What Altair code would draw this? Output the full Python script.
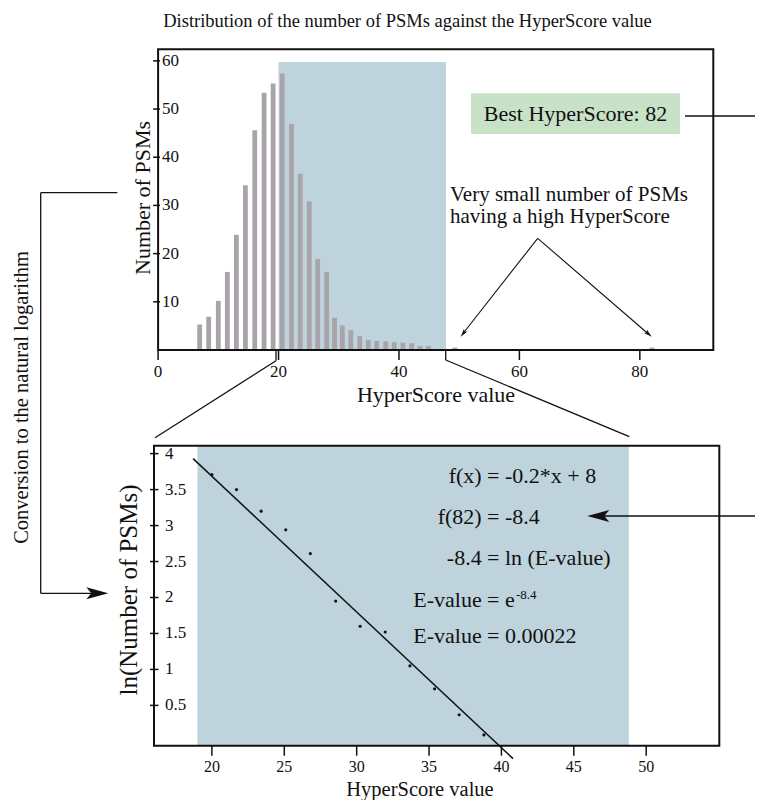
import altair as alt
import pandas as pd

FONT = "Liberation Serif"
INK = "#111111"

# ---------------- data ----------------
# top panel: histogram of PSMs per HyperScore
bar_score = [6.9, 8.4, 10.0, 11.5, 13.0, 14.5, 16.05, 17.6, 19.1, 20.6, 22.15, 23.6,
             25.1, 26.5, 28.0, 29.3, 30.6, 32.0, 33.5, 34.9, 36.3, 37.8, 39.2, 40.65,
             42.1, 43.5, 44.9, 49.3, 82.0]
bar_count = [5.3, 6.9, 10.2, 16.2, 23.9, 34.2, 45.6, 53.4, 55.3, 57.4, 46.9, 36.6,
             30.8, 18.9, 16.2, 6.7, 5.1, 4.1, 2.9, 2.1, 1.9, 1.8, 1.6, 1.5,
             1.4, 0.8, 0.8, 0.5, 0.5]
top_x_ticks = [0, 20, 40, 60, 80]
top_x_labels = ["0", "20", "40", "60", "80"]
top_y_ticks = [10, 20, 30, 40, 50, 60]
top_y_labels = ["10", "20", "30", "40", "50", "60"]
top_shade_x = [20, 47.8]
top_shade_top = 59.75

# bottom panel: ln(number of PSMs) against HyperScore
ln_score = [20.0, 21.7, 23.4, 25.1, 26.8, 28.55, 30.24, 31.97, 33.68, 35.38, 37.08, 38.79]
ln_count = [3.71, 3.50, 3.20, 2.94, 2.61, 1.95, 1.60, 1.52, 1.05, 0.73, 0.37, 0.09]
fit_score = [18.7, 40.8]
fit_ln = [3.93, -0.24]
bot_x_ticks = [20, 25, 30, 35, 40, 45, 50]
bot_x_labels = ["20", "25", "30", "35", "40", "45", "50"]
bot_y_ticks = [0.5, 1, 1.5, 2, 2.5, 3, 3.5, 4]
bot_y_labels = ["0.5", "1", "1.5", "2", "2.5", "3", "3.5", "4"]
bot_shade_x = [19.0, 48.8]

# texts
title_text = "Distribution of the number of PSMs against  the HyperScore value"
x_title = "HyperScore value"
top_y_title = "Number of PSMs"
bot_y_title = "ln(Number of PSMs)"
best_text = "Best HyperScore: 82"
note_lines = ["Very small number of PSMs", "having a high HyperScore"]
side_text = "Conversion to the natural logarithm"
eq_left = ["f(x)", "f(82)", "-8.4", "E-value", "E-value"]
eq_right = ["= -0.2*x + 8", "= -8.4", "= ln (E-value)", "= e", "= 0.00022"]
eq_sup = "-8.4"

# ---------------- layout (page px -> chart px) ----------------
O = 8
W, H = 747, 792


def P(v):
    return v - O


TX = [0, 92.2]
TY = [0, 62.4]
BX = [16, 55.05]
BY = [-0.06, 4.11]
top_x = alt.Scale(domain=TX, range=[P(153.1), P(718.3)], nice=False, zero=False)
top_y = alt.Scale(domain=TY, range=[P(350), P(49.3)], nice=False, zero=False)
bot_x = alt.Scale(domain=BX, range=[P(154), P(719.3)], nice=False, zero=False)
bot_y = alt.Scale(domain=BY, range=[P(745.7), P(445.7)], nice=False, zero=False)

one = alt.Data(values=[{}])


def rect_layer(x0, x1, y0, y1, sx, sy, **mk):
    df = pd.DataFrame({"x0": [x0], "x1": [x1], "y0": [y0], "y1": [y1]})
    return alt.Chart(df).mark_rect(**mk).encode(
        x=alt.X("x0:Q", scale=sx, axis=None), x2="x1:Q",
        y=alt.Y("y0:Q", scale=sy, axis=None), y2="y1:Q")


def x_axis(ticks, labels, sx, y_line, label_base, size=17):
    df = pd.DataFrame({"v": ticks, "lab": labels})
    tk = alt.Chart(df).mark_rule(color=INK, strokeWidth=1.5).encode(
        x=alt.X("v:Q", scale=sx, axis=None),
        y=alt.value(P(y_line)), y2=alt.value(P(y_line + 10)))
    lb = alt.Chart(df).mark_text(font=FONT, fontSize=size, color=INK, align="center",
                                 baseline="alphabetic").encode(
        x=alt.X("v:Q", scale=sx, axis=None), y=alt.value(P(label_base)), text="lab:N")
    return [tk, lb]


def y_axis(ticks, labels, sy, t0, t1, label_x):
    df = pd.DataFrame({"v": ticks, "lab": labels})
    tk = alt.Chart(df).mark_rule(color=INK, strokeWidth=1.5).encode(
        y=alt.Y("v:Q", scale=sy, axis=None),
        x=alt.value(P(t0)), x2=alt.value(P(t1)))
    lb = alt.Chart(df).mark_text(font=FONT, fontSize=17, color=INK, align="left",
                                 baseline="middle").encode(
        y=alt.Y("v:Q", scale=sy, axis=None), x=alt.value(P(label_x)), text="lab:N")
    return [tk, lb]


# ---------------- top panel ----------------
top_shade = rect_layer(top_shade_x[0], top_shade_x[1], 0, top_shade_top, top_x, top_y,
                       color="#bfd3dc")
top_bars = alt.Chart(pd.DataFrame({"score": bar_score, "count": bar_count})).mark_bar(
    size=4.8, color="#a9a3aa").encode(
    x=alt.X("score:Q", scale=top_x, axis=None),
    y=alt.Y("count:Q", scale=top_y, axis=None))
top_frame = rect_layer(TX[0], TX[1], TY[0], TY[1], top_x, top_y,
                       fillOpacity=0, stroke=INK, strokeWidth=2)

top_panel = alt.layer(
    top_shade, top_bars, top_frame,
    *x_axis(top_x_ticks, top_x_labels, top_x, 350, 376.5),
    *y_axis(top_y_ticks, top_y_labels, top_y, 153.1, 160, 162),
)

# ---------------- bottom panel ----------------
bot_shade = rect_layer(bot_shade_x[0], bot_shade_x[1], BY[0], BY[1], bot_x, bot_y,
                       color="#bfd3dc")
bot_fit = alt.Chart(pd.DataFrame({"score": fit_score, "ln": fit_ln})).mark_line(
    color=INK, strokeWidth=1.5, clip=False).encode(
    x=alt.X("score:Q", scale=bot_x, axis=None),
    y=alt.Y("ln:Q", scale=bot_y, axis=None))
bot_pts = alt.Chart(pd.DataFrame({"score": ln_score, "ln": ln_count})).mark_circle(
    size=10, color=INK, opacity=1).encode(
    x=alt.X("score:Q", scale=bot_x, axis=None),
    y=alt.Y("ln:Q", scale=bot_y, axis=None))
bot_frame = rect_layer(BX[0], BX[1], BY[0], BY[1], bot_x, bot_y,
                       fillOpacity=0, stroke=INK, strokeWidth=2)

bot_panel = alt.layer(
    bot_shade, bot_fit, bot_pts, bot_frame,
    *x_axis(bot_x_ticks, bot_x_labels, bot_x, 745.7, 771.5, 16),
    *y_axis(bot_y_ticks, bot_y_labels, bot_y, 150, 158.5, 165),
)

# ---------------- annotations (page coordinates) ----------------
decor = []


def seg(x1, y1, x2, y2, w=1.3):
    decor.append(alt.Chart(one).mark_rule(color=INK, strokeWidth=w).encode(
        x=alt.value(P(x1)), y=alt.value(P(y1)), x2=alt.value(P(x2)), y2=alt.value(P(y2))))


def txt(s, x, y, size, align="left", angle=0, baseline="alphabetic"):
    decor.append(alt.Chart(one).mark_text(
        text=s, font=FONT, fontSize=size, color=INK, align=align, angle=angle,
        baseline=baseline).encode(x=alt.value(P(x)), y=alt.value(P(y))))


def head(x, y, path, size, angle=0):
    decor.append(alt.Chart(one).mark_point(
        shape=path, size=size, filled=True, color=INK, opacity=1, strokeWidth=0,
        angle=angle).encode(x=alt.value(P(x)), y=alt.value(P(y))))


ARROW = "M0,0 L-2.2,-0.6 L-1.7,0 L-2.2,0.6 Z"   # tip at origin, pointing +x

# titles
txt(title_text, 407.5, 27, 18.5, align="center")
txt(x_title, 436, 402, 22, align="center")
txt(x_title, 420, 795.5, 20.5, align="center")
txt(top_y_title, 150, 198, 22, align="center", angle=270)
txt(bot_y_title, 137, 590, 25, align="center", angle=270)

# best hyperscore box
decor.append(alt.Chart(one).mark_rect(color="#c8e2c8").encode(
    x=alt.value(P(471)), x2=alt.value(P(680)), y=alt.value(P(93.3)), y2=alt.value(P(134))))
txt(best_text, 575.5, 121, 22, align="center")
seg(685, 116, 770, 116)

# note + arrows to the high-score bars
txt(note_lines[0], 450, 201, 21)
txt(note_lines[1], 450, 223, 21)
seg(537.7, 238.3, 463, 333.5, 1.1)
seg(537.7, 238.3, 649, 334.5, 1.1)
head(460.7, 336.7, ARROW, 56, 128)
head(651.7, 336.7, ARROW, 56, 40.8)

# zoom connectors between the panels
seg(276, 350, 276, 360.7)
seg(276, 360.7, 155, 437.7)
seg(445.7, 350, 445.7, 360)
seg(445.7, 360, 629.3, 436.7)

# right arrow into f(82)
seg(600, 516, 770, 516)
head(587.3, 516, ARROW, 400, 180)

# left connector: conversion to natural log
seg(40.7, 192.7, 117.3, 192.7)
seg(40.7, 192.7, 40.7, 593.3)
seg(40.7, 593.3, 95, 593.3)
head(108.3, 593.3, ARROW, 400, 0)
txt(side_text, 27.5, 397.5, 20.5, align="center", angle=270)

# equations
eq_base = [483, 524, 565, 607, 643]
for l, r, b in zip(eq_left, eq_right, eq_base):
    txt(l, 481.7, b, 22, align="right")
    txt(r, 487, b, 22, align="left")
txt(eq_sup, 516, 599, 13, align="left")

chart = alt.layer(top_panel, bot_panel, *decor).resolve_scale(
    x="independent", y="independent"
).properties(
    width=W, height=H, padding=0, background="white",
    autosize=alt.AutoSizeParams(type="none"),
).configure_view(stroke=None)

chart.save("out.html", embed_options={"renderer": "svg", "actions": False})
